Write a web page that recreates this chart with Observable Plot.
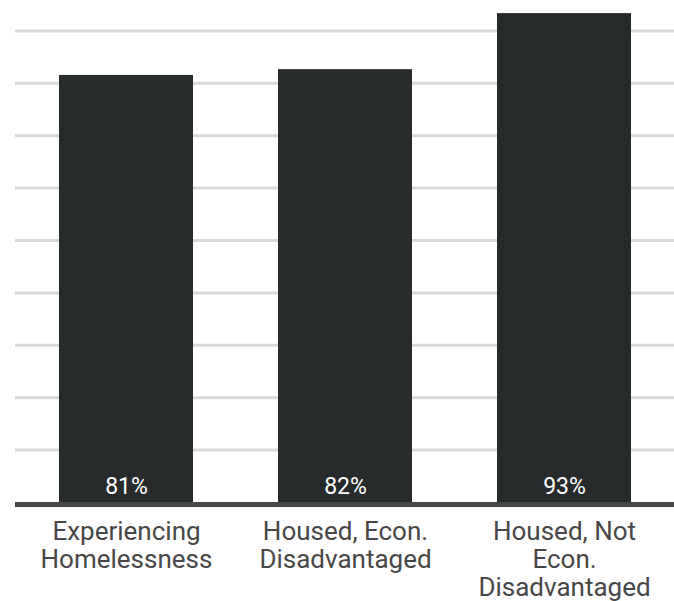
<!DOCTYPE html>
<html>
<head>
<meta charset="utf-8">
<script src="https://cdn.jsdelivr.net/npm/d3@7"></script>
<script src="https://cdn.jsdelivr.net/npm/@observablehq/plot@0.6"></script>
<style>
  html, body { margin: 0; padding: 0; background: #ffffff; }
  #chart { width: 674px; height: 601px; }
  svg { display: block; }
</style>
</head>
<body>
<div id="chart"></div>
<script>
const categories = ["Experiencing Homelessness", "Housed, Econ. Disadvantaged", "Housed, Not Econ. Disadvantaged"];
const tickLabels = ["Experiencing\nHomelessness", "Housed, Econ.\nDisadvantaged", "Housed, Not\nEcon.\nDisadvantaged"];
const values = [81.5, 82.6, 93.3];
const valueLabels = ["81%", "82%", "93%"];
const gridTicks = [10, 20, 30, 40, 50, 60, 70, 80, 90];

const data = categories.map((c, i) => ({category: c, value: values[i], label: valueLabels[i]}));
const tickMap = new Map(categories.map((c, i) => [c, tickLabels[i]]));

const chart = Plot.plot({
  width: 674,
  height: 601,
  marginLeft: 15,
  marginRight: 0,
  marginTop: 0,
  marginBottom: 99,
  style: {fontFamily: "Roboto, sans-serif", background: "#ffffff"},
  x: {domain: categories, paddingInner: 0.39, paddingOuter: 0.195, axis: null, label: null},
  y: {domain: [0, 95.8], axis: null},
  marks: [
    Plot.ruleY(gridTicks, {stroke: "#d9d9d9", strokeWidth: 3}),
    Plot.barY(data, {x: "category", y: "value", fill: "#272b2c"}),
    Plot.text(data, {x: "category", y: 0, text: "label", fill: "#ffffff", fontSize: 23, dy: -16}),
    Plot.ruleY([0], {stroke: "#474747", strokeWidth: 5, dy: 2}),
    Plot.axisX({
      tickSize: 0,
      tickPadding: 17,
      fontSize: 26,
      lineHeight: 1.09,
      fill: "#474747",
      label: null,
      tickFormat: d => tickMap.get(d)
    })
  ]
});
document.getElementById("chart").appendChild(chart);
</script>
</body>
</html>
